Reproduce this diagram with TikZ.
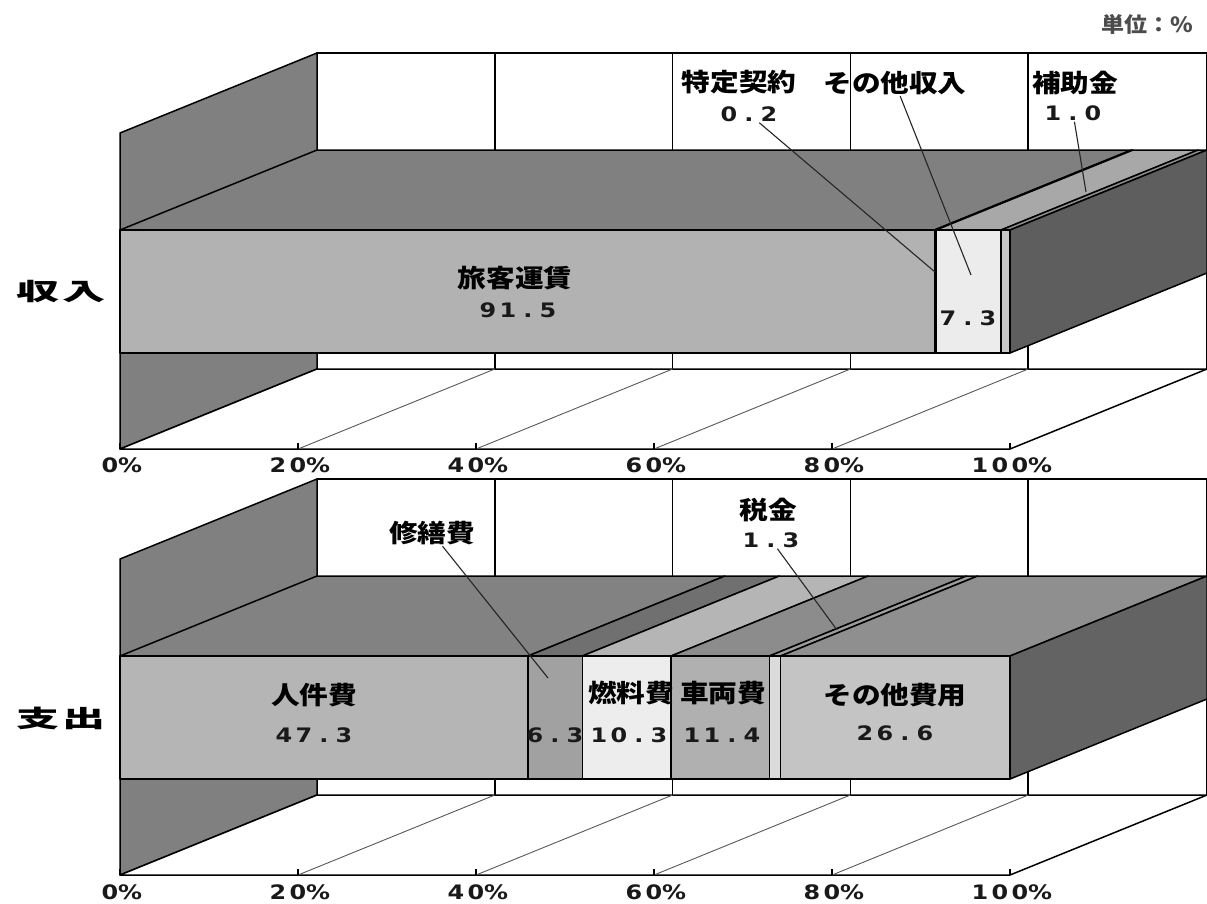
\documentclass[tikz,border=0pt]{standalone}
\usepackage{fontspec}
\newfontfamily\jplab[FakeStretch=1.15]{Noto Sans CJK JP}
\newfontfamily\jpside[FakeStretch=1.8]{Noto Sans CJK JP}
\newfontfamily\numfont[FakeStretch=1.2]{DejaVu Sans}
\newfontfamily\jpunit[FakeStretch=1.1]{Noto Sans CJK JP}
\newcommand{\fwc}[1]{\makebox[20bp]{#1}}
\definecolor{wallgray}{gray}{0.50}
\definecolor{fA}{gray}{0.70}\definecolor{tA}{gray}{0.50}
\definecolor{fB}{gray}{0.82}\definecolor{tB}{gray}{0.58}
\definecolor{fC}{gray}{0.925}\definecolor{tC}{gray}{0.66}
\definecolor{fD}{gray}{0.78}\definecolor{tD}{gray}{0.56}
\definecolor{rightA}{gray}{0.37}
\definecolor{gA}{gray}{0.71}\definecolor{hA}{gray}{0.51}
\definecolor{gB}{gray}{0.63}\definecolor{hB}{gray}{0.44}
\definecolor{gC}{gray}{0.93}\definecolor{hC}{gray}{0.71}
\definecolor{gD}{gray}{0.69}\definecolor{hD}{gray}{0.55}
\definecolor{gE}{gray}{0.86}\definecolor{hE}{gray}{0.61}
\definecolor{gF}{gray}{0.77}\definecolor{hF}{gray}{0.56}
\definecolor{rightB}{gray}{0.39}
\tikzset{
  edge/.style={draw=black, line width=1.5bp, line join=round},
  floorgrid/.style={draw=black!65, line width=0.9bp},
  leader/.style={draw=black!85, line width=1.1bp},
  cat/.style={font={\jplab\bfseries\fontsize{25}{25}\selectfont}, inner sep=1bp, text=black},
  val/.style={font={\numfont\bfseries\fontsize{20}{20}\selectfont}, inner sep=1bp, text=black!90},
  axlab/.style={font={\numfont\bfseries\fontsize{20}{20}\selectfont}, inner sep=1bp, text=black!90},
  sidelab/.style={font={\jpside\bfseries\fontsize{24}{24}\selectfont}, inner sep=1bp, text=black},
  unitlab/.style={font={\jpunit\bfseries\fontsize{21}{21}\selectfont}, inner sep=1bp, text=black!70},
}
\newcommand{\chartbase}{%
  \fill[white] (317,53) rectangle (1207,369);
  \draw[edge] (317,369) -- (317,53) -- (1207,53) -- (1207,369);
  \foreach \k in {1,...,4} \draw[edge] ({317+177.8*\k},53) -- ({317+177.8*\k},369);
  \filldraw[edge, fill=wallgray] (120,133) -- (317,53) -- (317,369) -- (120,449) -- cycle;
  \filldraw[edge, fill=white] (120,449) -- (1010,449) -- (1207,369) -- (317,369) -- cycle;
  \foreach \k in {1,...,4} \draw[floorgrid] ({120+178*\k},449) -- ({317+177.8*\k},369);
  \foreach \k in {0,...,5} \draw[edge] ({120+178*\k},449) -- ({120+178*\k},443);
}
\newcommand{\barseg}[4]{%
  \filldraw[edge, fill=#4] (#1,230) -- (#2,230) -- ({#2+197},150) -- ({#1+197},150) -- cycle;
  \filldraw[edge, fill=#3] (#1,230) rectangle (#2,353);
}
\newcommand{\barright}[1]{%
  \filldraw[edge, fill=#1] (1010,230) -- (1207,150) -- (1207,273) -- (1010,353) -- cycle;
}
\begin{document}
\begin{tikzpicture}[x=1bp, y=-1bp]
\useasboundingbox (0,0) rectangle (1207,904);
\fill[white] (0,0) rectangle (1207,904);

% ---------- top chart (income) ----------
\begin{scope}
  \chartbase
  \barseg{120}{934.4}{fA}{tA}
  \barseg{934.4}{936.1}{fB}{tB}
  \barseg{936.1}{1001.1}{fC}{tC}
  \barseg{1001.1}{1010}{fD}{tD}
  \barright{rightA}
\end{scope}

% ---------- bottom chart (expenses) ----------
\begin{scope}[yshift=-426bp]
  \chartbase
  \barseg{120}{527.9}{gA}{hA}
  \barseg{527.9}{582.3}{gB}{hB}
  \barseg{582.3}{671.1}{gC}{hC}
  \barseg{671.1}{769.4}{gD}{hD}
  \barseg{769.4}{780.6}{gE}{hE}
  \barseg{780.6}{1010}{gF}{hF}
  \barright{rightB}
\end{scope}

% ---------- labels ----------
\node[unitlab] (unit) at (1147,24) {単位：\%};
\node[sidelab] (inc) at (61,292) {収\hspace{3bp}入};
\node[sidelab] (exp) at (61,718) {支\hspace{3bp}出};

% top chart labels
\node[cat] (tokutei) at (739,82) {特定契約};
\node[val] (v02) at (749,114) {\fwc{0}\fwc{.}\fwc{2}};
\node[cat] (sonota) at (895,83) {その他収入};
\node[cat] (hojo) at (1075,83) {補助金};
\node[val] (v10) at (1073,113) {\fwc{1}\fwc{.}\fwc{0}};
\node[cat] (ryokaku) at (515,278) {旅客運賃};
\node[val] (v915) at (518,310) {\fwc{9}\fwc{1}\fwc{.}\fwc{5}};
\node[val] (v73) at (968,318) {\fwc{7}\fwc{.}\fwc{3}};

\coordinate (t1) at (935,272);
\coordinate (t2) at (971,275);
\coordinate (t3) at (1086,192);
\draw[leader] (v02) -- (t1);
\draw[leader] (sonota) -- (t2);
\draw[leader] (v10) -- (t3);

% bottom chart labels
\node[cat] (shuzen) at (432,533) {修繕費};
\node[cat] (zeikin) at (768,510) {税金};
\node[val] (v13) at (771,540) {\fwc{1}\fwc{.}\fwc{3}};
\node[cat] (jinken) at (314,695) {人件費};
\node[val] (v473) at (314,735) {\fwc{4}\fwc{7}\fwc{.}\fwc{3}};
\node[cat] (nenryo) at (631,693) {燃料費};
\node[cat] (sharyo) at (723,693) {車両費};
\node[val] (v63) at (555,735) {\fwc{6}\fwc{.}\fwc{3}};
\node[val] (v103) at (629,735) {\fwc{1}\fwc{0}\fwc{.}\fwc{3}};
\node[val] (v114) at (722,735) {\fwc{1}\fwc{1}\fwc{.}\fwc{4}};
\node[cat] (sonotahi) at (895,695) {その他費用};
\node[val] (v266) at (895,733) {\fwc{2}\fwc{6}\fwc{.}\fwc{6}};

\coordinate (b1) at (548,678);
\coordinate (b2) at (837,630);
\draw[leader] (shuzen) -- (b1);
\draw[leader] (v13) -- (b2);

% axis labels
\foreach \k/\t in {0/{\fwc{0}\fwc{\%}},1/{\fwc{2}\fwc{0}\fwc{\%}},2/{\fwc{4}\fwc{0}\fwc{\%}},3/{\fwc{6}\fwc{0}\fwc{\%}},4/{\fwc{8}\fwc{0}\fwc{\%}},5/{\fwc{1}\fwc{0}\fwc{0}\fwc{\%}}}{
  \node[axlab] (axa\k) at ({120+178*\k},465) {\t};
  \node[axlab] (axb\k) at ({120+178*\k},892) {\t};
}
\end{tikzpicture}
\end{document}
